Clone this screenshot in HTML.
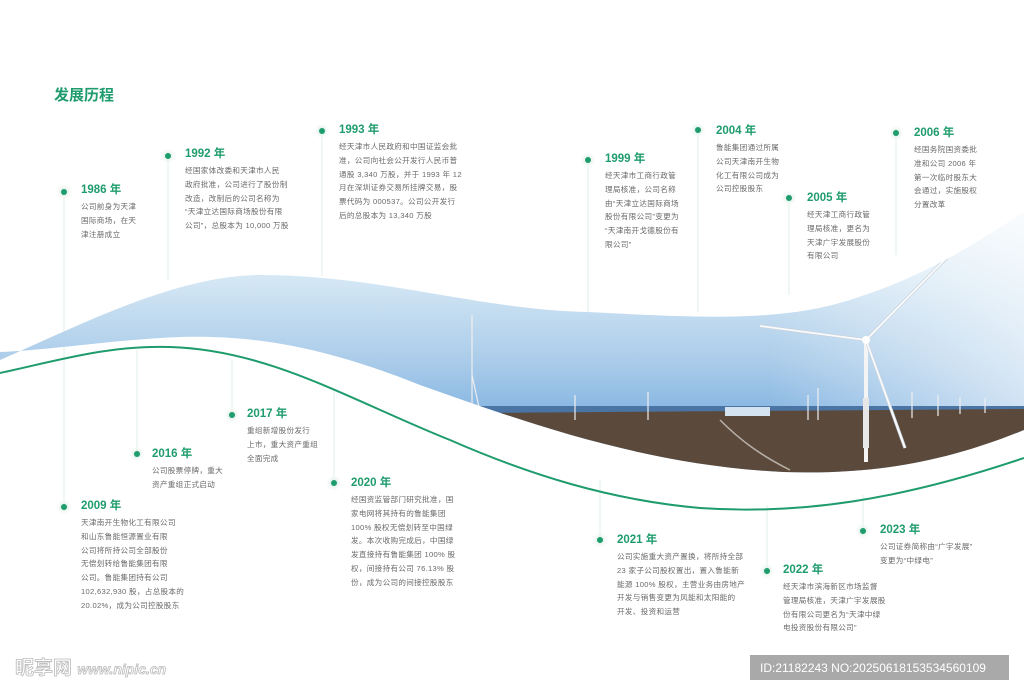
<!DOCTYPE html>
<html><head><meta charset="utf-8"><style>
*{margin:0;padding:0}
body{width:1024px;height:695px;position:relative;overflow:hidden;background:#fff;font-family:"Liberation Sans","Noto Sans CJK SC",sans-serif}
svg{position:absolute;left:0;top:0}
.e{position:absolute;white-space:nowrap}
.t{color:#1f9c6d;font-size:11.5px;line-height:14px;font-weight:bold}
.b{color:#6a6a6a;font-size:7.6px;line-height:13.8px;letter-spacing:0.3px;margin-top:3px}
.h{position:absolute;left:54px;top:84px;color:#1f9c6d;font-size:15px;font-weight:bold}
</style></head><body>
<svg width="1024" height="695" viewBox="0 0 1024 695">
<defs>
<linearGradient id="sky" x1="0" y1="210" x2="0" y2="415" gradientUnits="userSpaceOnUse">
<stop offset="0" stop-color="#f2f8fc"/><stop offset="0.35" stop-color="#d3e6f4"/><stop offset="0.75" stop-color="#a9cbe9"/><stop offset="1" stop-color="#85b5e2"/></linearGradient>
<linearGradient id="fade" x1="0" y1="0" x2="1" y2="0">
<stop offset="0" stop-color="#fff" stop-opacity="0"/><stop offset="0.75" stop-color="#fff" stop-opacity="0"/><stop offset="1" stop-color="#fff" stop-opacity="0.6"/></linearGradient>
<clipPath id="band"><path d="M0,360 C90,320 180,275 261,275 C380,275 480,310 588,312 C700,318 780,322 850,300 C930,275 980,240 1024,212 L1024,430 C950,460 880,475 784,472 C640,465 520,420 420,385 C320,345 250,335 180,337 C110,340 50,350 0,352 Z"/></clipPath>
<radialGradient id="halo"><stop offset="0.3" stop-color="#e3f2ea"/><stop offset="1" stop-color="#fff" stop-opacity="0"/></radialGradient>
</defs>
<g stroke="#dcefe6" stroke-width="1">
<line x1="64" y1="192" x2="64" y2="507"/>
<line x1="168" y1="156" x2="168" y2="280"/>
<line x1="322" y1="131" x2="322" y2="276"/>
<line x1="588" y1="160" x2="588" y2="312"/>
<line x1="698" y1="130" x2="698" y2="312"/>
<line x1="789" y1="198" x2="789" y2="295"/>
<line x1="896" y1="133" x2="896" y2="255"/>
<line x1="137" y1="350" x2="137" y2="454"/>
<line x1="232" y1="360" x2="232" y2="415"/>
<line x1="334" y1="390" x2="334" y2="483"/>
<line x1="600" y1="480" x2="600" y2="540"/>
<line x1="767" y1="505" x2="767" y2="571"/>
<line x1="863" y1="495" x2="863" y2="531"/>
</g>
<g clip-path="url(#band)">
<rect x="0" y="200" width="1024" height="300" fill="url(#sky)"/>
<rect x="0" y="200" width="1024" height="300" fill="url(#fade)"/>
<rect x="470" y="406" width="554" height="8" fill="#4a74a3"/>
<path d="M470,413 L1024,409 L1024,480 L470,480 Z" fill="#5b4a3c"/>
<path d="M720,420 C740,440 760,455 790,470" stroke="#b8b0a8" stroke-width="1.5" fill="none"/>
<rect x="725" y="407" width="45" height="9" fill="#d5e2ef"/>
<g stroke="#eee" stroke-width="1.2">
<line x1="472" y1="315" x2="472" y2="415"/><line x1="472" y1="375" x2="480" y2="412"/>
<line x1="575" y1="395" x2="575" y2="420"/><line x1="648" y1="392" x2="648" y2="420"/>
<line x1="808" y1="395" x2="808" y2="420"/><line x1="818" y1="388" x2="818" y2="420"/>
<line x1="912" y1="392" x2="912" y2="418"/><line x1="938" y1="395" x2="938" y2="416"/>
<line x1="960" y1="397" x2="960" y2="414"/><line x1="985" y1="398" x2="985" y2="413"/>
</g>
<line x1="866" y1="340" x2="866" y2="462" stroke="#f4f4f4" stroke-width="4"/>
<rect x="863" y="398" width="6" height="50" fill="#e7e7e7"/>
<g stroke="#c9d3de" stroke-width="3.2"><line x1="866" y1="340" x2="972" y2="232"/><line x1="866" y1="340" x2="760" y2="326"/><line x1="866" y1="340" x2="905" y2="448"/></g>
<g stroke="#fafbfc" stroke-width="1.8"><line x1="866" y1="340" x2="972" y2="232"/><line x1="866" y1="340" x2="760" y2="326"/><line x1="866" y1="340" x2="905" y2="448"/></g>
<circle cx="866" cy="340" r="4" fill="#fff"/>
</g>
<path d="M0,373 C60,360 110,345 170,347 C270,350 350,400 450,440 C530,475 610,500 700,508 C800,515 900,500 1024,458" stroke="#1f9c6d" stroke-width="2" fill="none"/>
<g>
<g fill="url(#halo)">
<circle cx="64" cy="192" r="9"/><circle cx="168" cy="156" r="9"/><circle cx="322" cy="131" r="9"/><circle cx="588" cy="160" r="9"/><circle cx="698" cy="130" r="9"/><circle cx="789" cy="198" r="9"/><circle cx="896" cy="133" r="9"/><circle cx="137" cy="454" r="9"/><circle cx="232" cy="415" r="9"/><circle cx="334" cy="483" r="9"/><circle cx="64" cy="507" r="9"/><circle cx="600" cy="540" r="9"/><circle cx="767" cy="571" r="9"/><circle cx="863" cy="531" r="9"/>
</g>
<g fill="#1f9c6d">
<circle cx="64" cy="192" r="3"/><circle cx="168" cy="156" r="3"/><circle cx="322" cy="131" r="3"/><circle cx="588" cy="160" r="3"/><circle cx="698" cy="130" r="3"/><circle cx="789" cy="198" r="3"/><circle cx="896" cy="133" r="3"/><circle cx="137" cy="454" r="3"/><circle cx="232" cy="415" r="3"/><circle cx="334" cy="483" r="3"/><circle cx="64" cy="507" r="3"/><circle cx="600" cy="540" r="3"/><circle cx="767" cy="571" r="3"/><circle cx="863" cy="531" r="3"/>
</g></g>
<rect x="750" y="655" width="259" height="25" fill="#a9a9a9"/>
<text x="760" y="672" fill="#fff" font-size="12" font-family="Liberation Sans Narrow, Liberation Sans, sans-serif">ID:21182243 NO:20250618153534560109</text>
<text x="15" y="674" fill="#fff" stroke="#bbb" stroke-width="0.8" font-size="19" font-weight="bold" font-family="Liberation Sans,Noto Sans CJK SC,sans-serif">昵享网 <tspan font-size="14" font-style="italic">www.nipic.cn</tspan></text>
</svg>
<div class="h">发展历程</div>
<div class="e" style="left:81px;top:183px"><div class="t">1986 年</div><div class="b">公司前身为天津<br>国际商场，在天<br>津注册成立</div></div>
<div class="e" style="left:185px;top:147px"><div class="t">1992 年</div><div class="b">经国家体改委和天津市人民<br>政府批准，公司进行了股份制<br>改造，改制后的公司名称为<br>“天津立达国际商场股份有限<br>公司”，总股本为 10,000 万股</div></div>
<div class="e" style="left:339px;top:123px"><div class="t">1993 年</div><div class="b">经天津市人民政府和中国证监会批<br>准，公司向社会公开发行人民币普<br>通股 3,340 万股，并于 1993 年 12<br>月在深圳证券交易所挂牌交易，股<br>票代码为 000537。公司公开发行<br>后的总股本为 13,340 万股</div></div>
<div class="e" style="left:605px;top:152px"><div class="t">1999 年</div><div class="b">经天津市工商行政管<br>理局核准，公司名称<br>由“天津立达国际商场<br>股份有限公司”变更为<br>“天津南开戈德股份有<br>限公司”</div></div>
<div class="e" style="left:716px;top:124px"><div class="t">2004 年</div><div class="b">鲁能集团通过所属<br>公司天津南开生物<br>化工有限公司成为<br>公司控股股东</div></div>
<div class="e" style="left:807px;top:191px"><div class="t">2005 年</div><div class="b">经天津工商行政管<br>理局核准，更名为<br>天津广宇发展股份<br>有限公司</div></div>
<div class="e" style="left:914px;top:126px"><div class="t">2006 年</div><div class="b">经国务院国资委批<br>准和公司 2006 年<br>第一次临时股东大<br>会通过，实施股权<br>分置改革</div></div>
<div class="e" style="left:152px;top:447px"><div class="t">2016 年</div><div class="b">公司股票停牌，重大<br>资产重组正式启动</div></div>
<div class="e" style="left:247px;top:407px"><div class="t">2017 年</div><div class="b">重组新增股份发行<br>上市，重大资产重组<br>全面完成</div></div>
<div class="e" style="left:351px;top:476px"><div class="t">2020 年</div><div class="b">经国资监管部门研究批准，国<br>家电网将其持有的鲁能集团<br>100% 股权无偿划转至中国绿<br>发。本次收购完成后，中国绿<br>发直接持有鲁能集团 100% 股<br>权，间接持有公司 76.13% 股<br>份，成为公司的间接控股股东</div></div>
<div class="e" style="left:81px;top:499px"><div class="t">2009 年</div><div class="b">天津南开生物化工有限公司<br>和山东鲁能恒源置业有限<br>公司将所持公司全部股份<br>无偿划转给鲁能集团有限<br>公司。鲁能集团持有公司<br>102,632,930 股，占总股本的<br>20.02%，成为公司控股股东</div></div>
<div class="e" style="left:617px;top:533px"><div class="t">2021 年</div><div class="b">公司实施重大资产置换，将所持全部<br>23 家子公司股权置出，置入鲁能新<br>能源 100% 股权，主营业务由房地产<br>开发与销售变更为风能和太阳能的<br>开发、投资和运营</div></div>
<div class="e" style="left:783px;top:563px"><div class="t">2022 年</div><div class="b">经天津市滨海新区市场监督<br>管理局核准，天津广宇发展股<br>份有限公司更名为“天津中绿<br>电投资股份有限公司”</div></div>
<div class="e" style="left:880px;top:523px"><div class="t">2023 年</div><div class="b">公司证券简称由“广宇发展”<br>变更为“中绿电”</div></div>
</body></html>
